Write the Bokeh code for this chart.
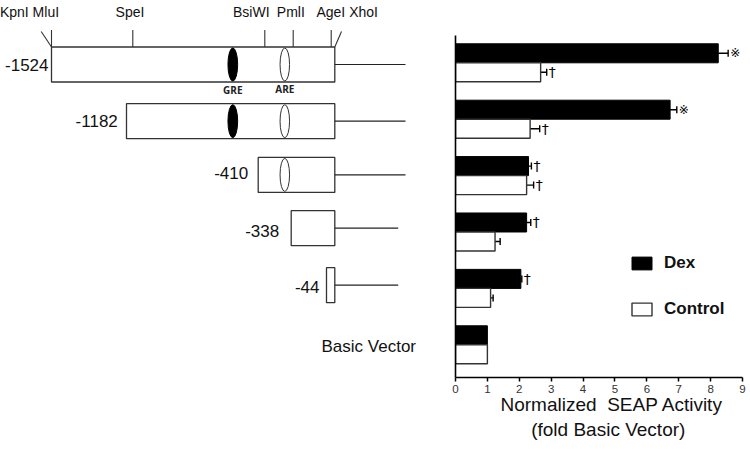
from bokeh.plotting import figure
from bokeh.layouts import row
from bokeh.models import (Range1d, FixedTicker, ColumnDataSource, Whisker, TeeHead,
                          Legend, LegendItem, Title)
from bokeh.core.properties import value
from bokeh.embed import file_html
from bokeh.resources import INLINE

# ---------------- bar chart data ----------------
constructs = ["-1524", "-1182", "-410", "-338", "-44", "Basic Vector"]
dex = [8.24, 6.73, 2.29, 2.23, 2.05, 1.0]
dex_err = [0.31, 0.21, 0.09, 0.13, 0.03, 0.0]
control = [2.67, 2.34, 2.23, 1.24, 1.10, 1.0]
control_err = [0.19, 0.30, 0.22, 0.16, 0.08, 0.0]
dex_marks = ["\u203b", "\u203b", "\u2020", "\u2020", "\u2020", ""]
control_marks = ["\u2020", "\u2020", "\u2020", "", "", ""]
x_ticks = [0, 1, 2, 3, 4, 5, 6, 7, 8, 9]
series_labels = ["Dex", "Control"]
x_title = ["Normalized\u00a0 SEAP Activity", "(fold Basic Vector)"]

# ---------------- schematic (diagram units = pixels) ----------------
site_labels = ["KpnI MluI", "SpeI", "BsiWI", "PmlI", "AgeI XhoI"]
site_label_x = [29.0, 129.5, 250.8, 290.3, 346.7]
site_x = [51.0, 132.3, 264.3, 292.7, 330.7]
slant_x0 = [40.7, 341.0]
slant_x1 = [51.0, 334.3]
box_left = [51.0, 126.0, 257.7, 290.7, 326.0]
box_right = 334.3
box_cy = [64.0, 120.7, 174.4, 227.7, 284.7]
line_end = [405.0, 405.0, 405.0, 397.7, 397.7]
label_right = [48.0, 117.3, 247.7, 278.7, 319.0, 415.5]
label_y = [64.0, 120.7, 172.7, 230.0, 286.0, 346.0]
gre_boxes = [0, 1]
are_boxes = [0, 1, 2]
gre_x = 232.3
are_x = 284.3

W, H = 750, 449
LW = 420
RW = W - LW
BOTTOM = 72
FONT = "Liberation Sans"

# ---------------- left schematic figure ----------------
left = figure(width=LW, height=H, x_range=Range1d(0, LW), y_range=Range1d(H - BOTTOM, 0),
              x_axis_type=None, y_axis_type=None, min_border=0, min_border_bottom=BOTTOM,
              toolbar_location=None, output_backend="svg", outline_line_color=None)
left.grid.visible = False

bh = 35.0
left.quad(left=box_left, right=[box_right] * len(box_left),
          top=[c - bh / 2 for c in box_cy], bottom=[c + bh / 2 for c in box_cy],
          fill_color="white", line_color="#333333", line_width=1.3)
left.segment(x0=[box_right] * len(box_cy), y0=box_cy, x1=line_end, y1=box_cy,
             line_color="#222222", line_width=1.2)
left.segment(x0=site_x, y0=[29.5] * len(site_x), x1=site_x, y1=[box_cy[0] - bh / 2] * len(site_x),
             line_color="#333333", line_width=1.1)
left.segment(x0=slant_x0, y0=[31.0, 31.0], x1=slant_x1, y1=[box_cy[0] - bh / 2] * 2,
             line_color="#333333", line_width=1.1)
left.ellipse(x=[gre_x] * len(gre_boxes), y=[box_cy[i] for i in gre_boxes], width=9.7, height=33,
             fill_color="black", line_color="black")
left.ellipse(x=[are_x] * len(are_boxes), y=[box_cy[i] for i in are_boxes], width=9.5, height=33,
             fill_color="white", line_color="#333333", line_width=1.0)
left.text(x=[gre_x, are_x], y=[89.5, 88.0], text=["GRE", "ARE"], text_align="center",
          text_baseline="middle", text_font=value("Open Sans"), text_font_style="bold",
          text_font_size="10px", text_color="#222222")
left.text(x=site_label_x, y=[11.5] * len(site_labels), text=site_labels, text_align="center",
          text_baseline="middle", text_font=value(FONT), text_font_size="14px",
          text_color="#111111")
left.text(x=label_right, y=label_y, text=constructs, text_align="right", text_baseline="middle",
          text_font=value(FONT), text_font_size="17px", text_color="#111111")

# ---------------- right bar chart ----------------
n = len(constructs)
bar_h = 0.337
y_dex = [-i + bar_h / 2 for i in range(n)]
y_ctl = [-i - bar_h / 2 for i in range(n)]
y_lo, y_axis_top, y_hi = -5.580, 0.484, 1.1046

right = figure(width=RW, height=H, x_range=Range1d(0, 9), y_range=Range1d(y_lo, y_hi),
               min_border_left=35, min_border_right=8, min_border_top=0, min_border_bottom=BOTTOM,
               toolbar_location=None, output_backend="svg", outline_line_color=None)
right.grid.visible = False

r_dex = right.hbar(y=y_dex, left=0, right=dex, height=bar_h, fill_color="black",
                   line_color="black", line_width=1)
r_ctl = right.hbar(y=y_ctl, left=0, right=control, height=bar_h, fill_color="white",
                   line_color="#333333", line_width=1.4)

mark_size = {"\u203b": "12px", "\u2020": "14px"}
for ys, vals, errs, marks in ((y_dex, dex, dex_err, dex_marks), (y_ctl, control, control_err, control_marks)):
    idx = [i for i in range(n) if errs[i] > 0]
    src = ColumnDataSource(dict(y=[ys[i] for i in idx], lo=[vals[i] for i in idx],
                                hi=[vals[i] + errs[i] for i in idx]))
    right.add_layout(Whisker(source=src, base="y", lower="lo", upper="hi", dimension="width",
                             lower_head=None, upper_head=TeeHead(size=7, line_width=1.4),
                             line_width=1.4, line_color="black"))
    mi = [i for i in range(n) if marks[i]]
    msrc = ColumnDataSource(dict(x=[vals[i] + errs[i] for i in mi], y=[ys[i] for i in mi],
                                 t=[marks[i] for i in mi], s=[mark_size[marks[i]] for i in mi]))
    right.text(x="x", y="y", text="t", text_font_size="s", source=msrc,
               x_offset=2, text_align="left", text_baseline="middle",
               text_font=value("DejaVu Sans"), text_color="black")

xa = right.xaxis[0]
xa.ticker = FixedTicker(ticks=x_ticks)
xa.minor_tick_line_color = None
xa.major_tick_out = 4
xa.major_tick_in = 0
xa.major_tick_line_width = 1.5
xa.axis_line_width = 1.6
xa.axis_line_color = "black"
xa.major_label_text_font = FONT
xa.major_label_text_font_size = "11.5px"
xa.major_label_text_color = "#333333"
xa.major_label_standoff = 3
xa.axis_label_standoff = 0

ya = right.yaxis[0]
ya.ticker = FixedTicker(ticks=[])
ya.bounds = (y_lo, y_axis_top)
ya.minor_tick_line_color = None
ya.major_tick_line_color = None
ya.major_label_text_font_size = "0px"
ya.axis_line_width = 1.6
ya.axis_line_color = "black"

for t, off, so in zip(x_title, [45, 75.7], [-8, 12]):
    right.add_layout(Title(text=t, align="left", offset=off, standoff=so,
                           text_font=FONT, text_font_style="normal", text_font_size="19px",
                           text_color="#111111"), "below")

legend = Legend(items=[LegendItem(label=series_labels[0], renderers=[r_dex]),
                       LegendItem(label=series_labels[1], renderers=[r_ctl])],
                location=(174, 57.7), orientation="vertical", padding=0, margin=0,
                spacing=26, glyph_width=25, glyph_height=16, label_standoff=10,
                label_text_font=FONT, label_text_font_style="bold",
                label_text_font_size="17px", label_text_color="#111111",
                border_line_color=None, background_fill_alpha=0)
right.add_layout(legend)

layout = row(left, right, spacing=0)
open("out.html", "w").write(file_html(layout, INLINE))
